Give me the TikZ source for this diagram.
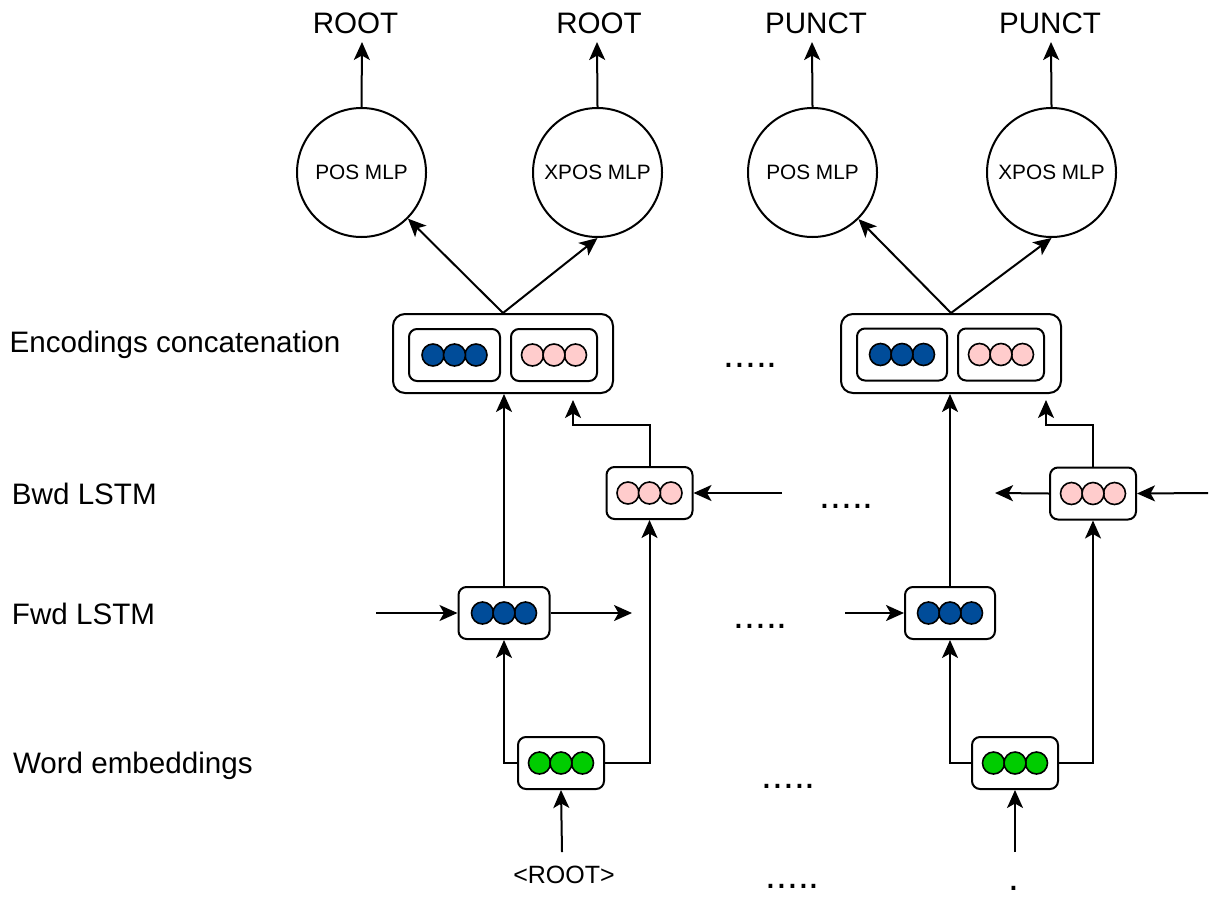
\documentclass[tikz,border=0pt]{standalone}
\usepackage{fontspec}
\setmainfont{Liberation Sans}
\usetikzlibrary{arrows.meta}
\definecolor{cblue}{HTML}{004C99}
\definecolor{cpink}{HTML}{FFCCCC}
\definecolor{cgreen}{HTML}{00CC00}
\newcommand{\trio}[2]{%
  \node[dotc,fill=#2] (#1a) at ([xshift=-21.5pt]#1.center) {};
  \node[dotc,fill=#2] (#1c) at ([xshift=21.5pt]#1.center) {};
  \node[dotc,fill=#2] (#1b) at (#1.center) {};}
\begin{document}
\begin{tikzpicture}[x=1pt,y=-1pt,line width=2pt,
  arr/.style={-{Stealth[length=18pt,width=16pt,inset=4.5pt]}},
  cell/.style={draw,rounded corners=8pt,minimum height=52pt,inner sep=0pt,fill=white},
  outerbox/.style={draw,rounded corners=12pt,minimum width=220pt,minimum height=79pt,inner sep=0pt,fill=white},
  mlp/.style={draw,circle,minimum size=129pt,inner sep=0pt,font=\fontsize{20.8}{24}\selectfont},
  big/.style={inner sep=0pt,font=\fontsize{29.6}{34}\selectfont},
  dotsty/.style={inner sep=0pt,anchor=base west,font=\fontsize{39}{44}\selectfont},
  dotc/.style={draw,circle,minimum size=22pt,inner sep=0pt,line width=1.6pt}]
\useasboundingbox[fill=white] (0,0) rectangle (1214,897);

% left labels
\node[big,anchor=base west] (lenc) at (8.7,352) {Encodings concatenation};
\node[big,anchor=base west] (lbwd) at (11,504) {Bwd LSTM};
\node[big,anchor=base west] (lfwd) at (11,624) {Fwd LSTM};
\node[big,anchor=base west] (lword) at (12,773) {Word embeddings};

% top labels
\node[big,anchor=base] (t1) at (355.5,33) {ROOT};
\node[big,anchor=base] (t2) at (599,33) {ROOT};
\node[big,anchor=base] (t3) at (816,33) {PUNCT};
\node[big,anchor=base] (t4) at (1050,33) {PUNCT};

% MLP circles
\node[mlp] (pos1) at (361.5,172.5) {POS MLP};
\node[mlp] (xpos1) at (597.5,172.5) {XPOS MLP};
\node[mlp] (pos2) at (812.5,172.5) {POS MLP};
\node[mlp] (xpos2) at (1051.5,172.5) {XPOS MLP};

% concatenation boxes
\node[outerbox] (c1) at (503,353.5) {};
\node[cell,minimum width=91pt] (c1b) at (454.5,355) {};
\node[cell,minimum width=86pt] (c1p) at (554,355) {};
\trio{c1b}{cblue}
\trio{c1p}{cpink}
\node[outerbox] (c2) at (951,353.5) {};
\node[cell,minimum width=90pt] (c2b) at (902,354.5) {};
\node[cell,minimum width=86pt] (c2p) at (1001,354.5) {};
\trio{c2b}{cblue}
\trio{c2p}{cpink}

% LSTM and embedding cells
\node[cell,minimum width=86pt] (b1) at (649.5,493) {};
\trio{b1}{cpink}
\node[cell,minimum width=86pt] (b2) at (1093,493.5) {};
\trio{b2}{cpink}
\node[cell,minimum width=91pt] (f1) at (504,613) {};
\trio{f1}{cblue}
\node[cell,minimum width=90pt] (f2) at (950,613) {};
\trio{f2}{cblue}
\node[cell,minimum width=86pt] (w1) at (561,763) {};
\trio{w1}{cgreen}
\node[cell,minimum width=86pt] (w2) at (1015,763) {};
\trio{w2}{cgreen}

% bottom words
\node[inner sep=0pt,anchor=base,font=\fontsize{25}{30}\selectfont] (root) at (564,883) {<ROOT>};
\node[dotsty] (pt) at (1007.5,890) {.};

% ellipses
\node[dotsty] (d1) at (722.5,367) {.....};
\node[dotsty] (d2) at (818.5,508) {.....};
\node[dotsty] (d3) at (732.5,628) {.....};
\node[dotsty] (d4) at (760.5,788) {.....};
\node[dotsty] (d5) at (764.5,888) {.....};

% free ends
\coordinate (o1) at (362,42);
\coordinate (o2) at (597,42);
\coordinate (o3) at (812,42);
\coordinate (o4) at (1051,42);
\coordinate (fin1) at (376,613);
\coordinate (fout1) at (632,613);
\coordinate (bin1) at (782,493);
\coordinate (win1) at (562,852);
\coordinate (bt1) at (573,400);
\coordinate (fin2) at (845,613);
\coordinate (bin2) at (1208,493);
\coordinate (bout2) at (995,493);
\coordinate (win2) at (1015,852);
\coordinate (bt2) at (1046,400);

% connectors
\draw[arr] (pos1.north) -- (o1);
\draw[arr] (xpos1.north) -- (o2);
\draw[arr] (pos2.north) -- (o3);
\draw[arr] (xpos2.north) -- (o4);
\draw[arr] (c1.north) -- (pos1);
\draw[arr] (c1.north) -- (xpos1.south);
\draw[arr] (c2.north) -- (pos2);
\draw[arr] (c2.north) -- (xpos2.south);

\draw[arr] (fin1) -- (f1.west);
\draw[arr] (f1.east) -- (fout1);
\draw[arr] (bin1) -- (b1.east);
\draw[arr] (win1) -- (w1.south);
\draw[arr] (w1.west) -| (f1.south);
\draw[arr] (w1.east) -| (b1.south);
\draw[arr] (f1.north) -- (f1.north |- c1.south);
\draw[arr] (b1.north) -- ++(0,-41) -| (bt1);

\draw[arr] (fin2) -- (f2.west);
\draw[arr] (bin2) -- (b2.east);
\draw[arr] (b2.west) -- (bout2);
\draw[arr] (win2) -- (w2.south);
\draw[arr] (w2.west) -| (f2.south);
\draw[arr] (w2.east) -| (b2.south);
\draw[arr] (f2.north) -- (f2.north |- c2.south);
\draw[arr] (b2.north) -- ++(0,-42) -| (bt2);
\end{tikzpicture}
\end{document}
